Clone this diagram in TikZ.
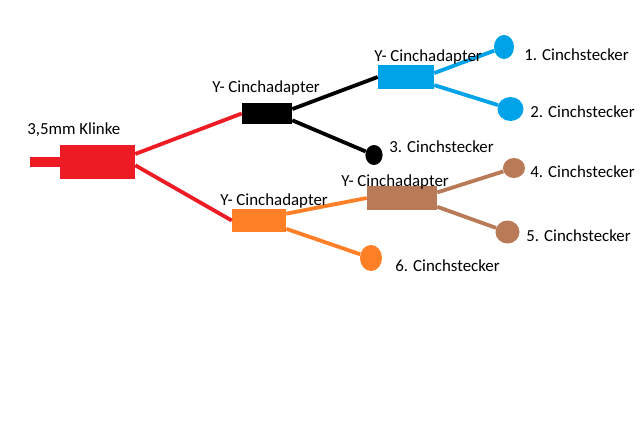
\documentclass[tikz,border=0pt]{standalone}
\usepackage{fontspec}
\setmainfont{Carlito}
\usetikzlibrary{shapes.geometric}
\definecolor{klinkered}{HTML}{ED1C24}
\definecolor{cinchblue}{HTML}{00A2E8}
\definecolor{cinchorange}{HTML}{FF7F27}
\definecolor{cinchbrown}{HTML}{B97A57}
\tikzset{
  adapter/.style={rectangle, inner sep=0pt, draw=none, minimum width=#1},
  plug/.style={ellipse, inner sep=0pt, draw=none},
  wire/.style={line width=0.095cm},
  caption/.style={anchor=base west, inner sep=0pt, font=\fontsize{12}{14}\selectfont},
}

\begin{document}
\begin{tikzpicture}[x=0.025cm,y=-0.025cm]
\useasboundingbox[fill=white] (0,0) rectangle (640,437);

%% ---- klinke ------------------------------------------------------------
\node[adapter=0.75cm, minimum height=0.25cm, fill=klinkered] (tip) at (45,162) {};
\node[adapter=1.875cm, minimum height=0.85cm, fill=klinkered] (klinke) at (97.5,162) {};

%% ---- adapters ----------------------------------------------------------
\node[adapter=1.25cm, minimum height=0.525cm, fill=black] (ablack) at (267,113.5) {};
\node[adapter=1.35cm, minimum height=0.575cm, fill=cinchorange] (aorange) at (259,220.5) {};
\node[adapter=1.4cm, minimum height=0.6cm, fill=cinchblue] (ablue) at (406,77) {};
\node[adapter=1.75cm, minimum height=0.6cm, fill=cinchbrown] (abrown) at (402,198) {};

%% ---- plugs -------------------------------------------------------------
\foreach \n/\c/\x/\y/\w/\h in
    {one/cinchblue/504/47/0.5/0.6, two/cinchblue/510.5/109/0.65/0.6,
     three/black/374/155/0.43/0.5, four/cinchbrown/514/168/0.55/0.5,
     five/cinchbrown/507.5/232/0.6/0.575, six/cinchorange/371/258/0.55/0.65}
  \node[plug, fill=\c, minimum width=\w cm, minimum height=\h cm] (\n) at (\x,\y) {};

%% ---- wires -------------------------------------------------------------
\draw[wire, klinkered] (klinke.12) -- (ablack.west);
\draw[wire, klinkered] (klinke.-5) -- (aorange.west);
\draw[wire, black] (ablack.10) -- (ablue.west);
\draw[wire, black] (ablack.-15) -- (three);
\draw[wire, cinchblue] (ablue.8) -- (one);
\draw[wire, cinchblue] (ablue.-16) -- (two);
\draw[wire, cinchorange] (aorange.14.5) -- (abrown.west);
\draw[wire, cinchorange] (aorange.-17.5) -- (six);
\draw[wire, cinchbrown] (abrown.9.7) -- (four);
\draw[wire, cinchbrown] (abrown.-14.4) -- (five);

%% ---- captions ----------------------------------------------------------
\node[caption] (lklinke) at (27,134) {3,5mm Klinke};
\foreach \n/\x/\y in {lblack/212/92, lorange/220/205, lblue/374/61, lbrown/341/186}
  \node[caption] (\n) at (\x,\y) {Y- Cinchadapter};
\foreach \i/\x/\y [count=\k] in
    {1/524/60, 2/530/117, 3/389/152, 4/530/177, 5/526/241, 6/395/271}
  \node[caption] (l\k) at (\x,\y) {\i. Cinchstecker};

\end{tikzpicture}
\end{document}
